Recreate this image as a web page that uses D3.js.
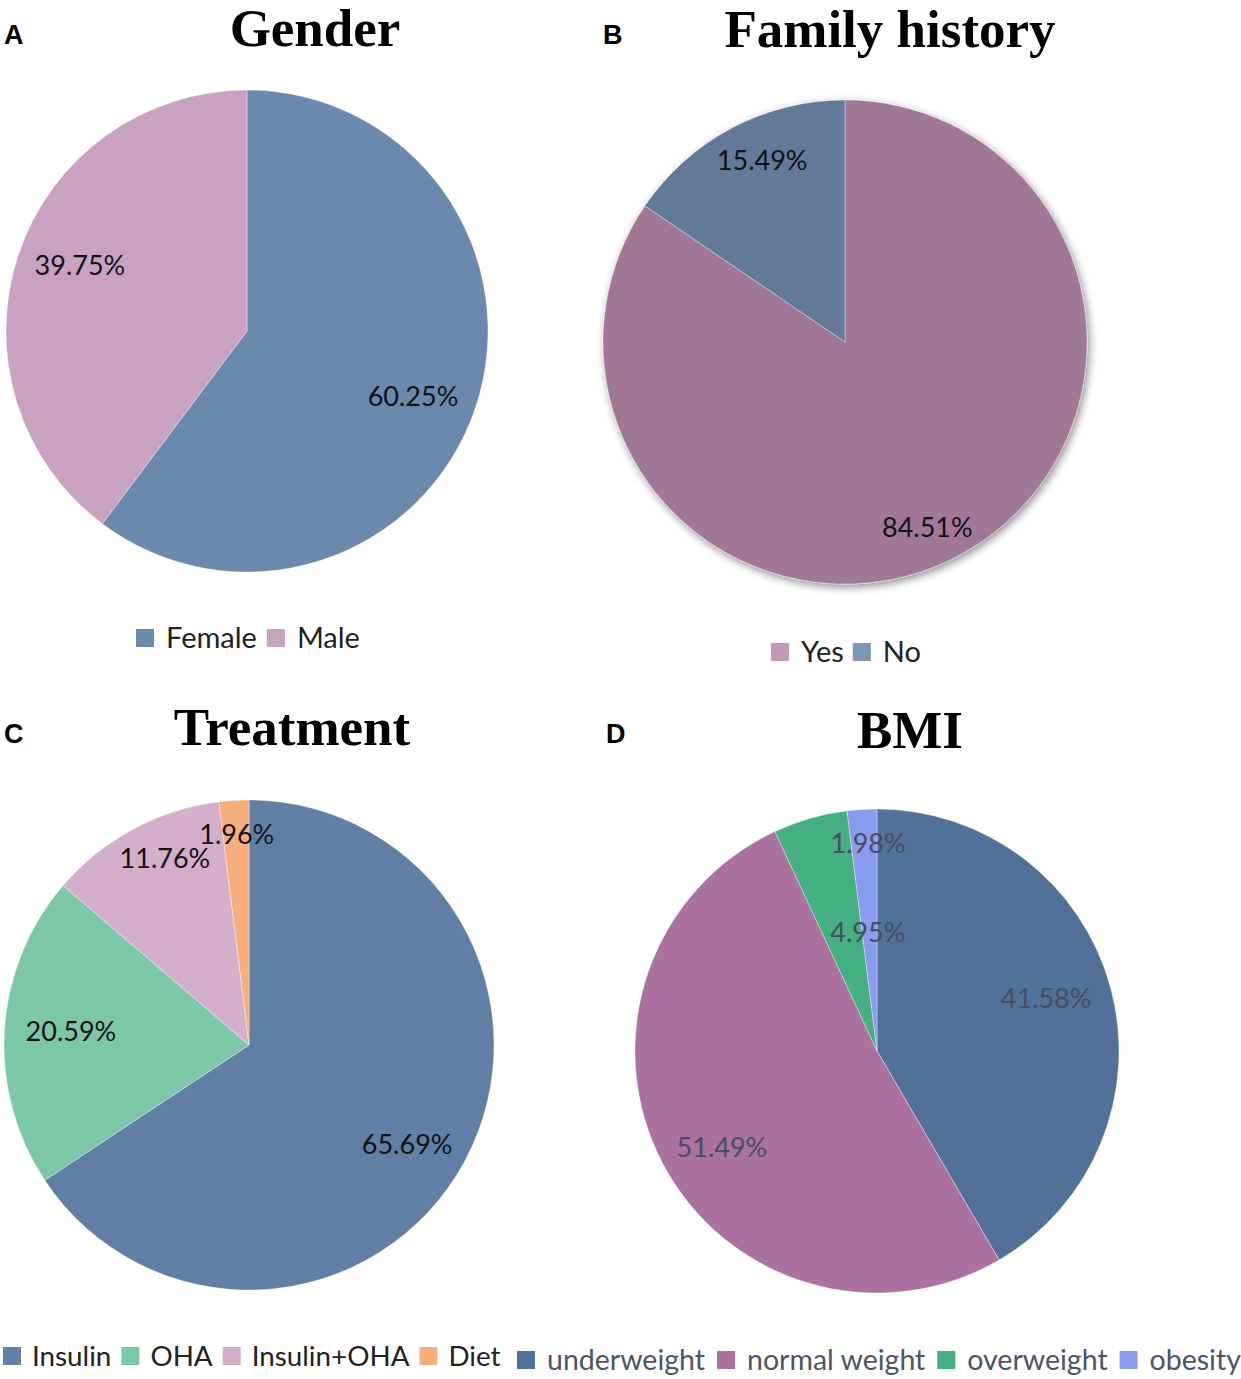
<!DOCTYPE html>
<html>
<head>
<meta charset="utf-8">
<script src="https://cdn.jsdelivr.net/npm/d3@7"></script>
<style>
    body { margin: 0; background: #fff; }
    svg text { font-family: Lato, "Open Sans", sans-serif; }
</style>
</head>
<body>
<div id="chart"></div>
<script>
// values (percent)
const genderLabels = ["Female", "Male"];
const genderValues = [60.25, 39.75];

const familyLabels = ["Yes", "No"];
const familyValues = [84.51, 15.49];

const treatmentLabels = ["Insulin", "OHA", "Insulin+OHA", "Diet"];
const treatmentValues = [65.69, 20.59, 11.76, 1.96];

const bmiLabels = ["underweight", "normal weight", "overweight", "obesity"];
const bmiValues = [41.58, 51.49, 4.95, 1.98];

const W = 1241, H = 1379;

const svg = d3.select("#chart")
    .append("svg")
    .attr("width", W)
    .attr("height", H);

const defs = svg.append("defs");
defs.append("filter")
    .attr("id", "shadow")
    .attr("x", "-10%").attr("y", "-10%")
    .attr("width", "120%").attr("height", "120%")
    .append("feDropShadow")
    .attr("dx", 2).attr("dy", 3)
    .attr("stdDeviation", 4)
    .attr("flood-color", "#000")
    .attr("flood-opacity", 0.45);

// labelR: radius of each % label as share of pie radius
// labelShift: small angle nudge (degrees) the way Excel placed them
const panels = [
    {
        letter: "A", letterX: 4, letterY: 44,
        title: "Gender", titleX: 315, titleY: 46,
        labels: genderLabels, values: genderValues,
        colors: ["#6b89ad", "#c9a2c2"],
        legendColors: ["#6b89ad", "#c9a2c2"],
        cx: 247, cy: 331, r: 241,
        labelR: [0.74, 0.745], labelShift: [3, 3],
        labelColor: "#111",
        legendX: 136, legendY: 648, legendSize: 29, legendPad: 30, legendGap: 10, legendColor: "#222"
    },
    {
        letter: "B", letterX: 603, letterY: 44,
        title: "Family history", titleX: 890, titleY: 47,
        labels: familyLabels, values: familyValues,
        colors: ["#a27899", "#627a97"],
        legendColors: ["#c597bb", "#7f97b5"],
        cx: 845, cy: 342, r: 242,
        labelR: [0.84, 0.826], labelShift: [4, 3.4],
        labelColor: "#111", shadow: true,
        legendX: 771, legendY: 662, legendSize: 29, legendPad: 30, legendGap: 9, legendColor: "#222"
    },
    {
        letter: "C", letterX: 4, letterY: 743,
        title: "Treatment", titleX: 292, titleY: 745,
        labels: treatmentLabels, values: treatmentValues,
        colors: ["#617fa5", "#7dc7a9", "#d3afcc", "#f6ae7c"],
        legendColors: ["#617fa5", "#7dc7a9", "#d3afcc", "#f6ae7c"],
        cx: 249, cy: 1045, r: 245,
        labelR: [0.763, 0.729, 0.833, 0.862], labelShift: [4, 0.7, 3.9, 0.2],
        labelColor: "#111",
        legendX: 3, legendY: 1366, legendSize: 27.8, legendPad: 29, legendGap: 10, legendColor: "#222"
    },
    {
        letter: "D", letterX: 606, letterY: 743,
        title: "BMI", titleX: 910, titleY: 748,
        labels: bmiLabels, values: bmiValues,
        colors: ["#527199", "#ab729f", "#46af84", "#8a9bf0"],
        legendColors: ["#527199", "#ab729f", "#46af84", "#8a9bf0"],
        cx: 877, cy: 1051, r: 242,
        labelR: [0.732, 0.756, 0.489, 0.856], labelShift: [-2.2, -4.4, 11.6, 1.1],
        labelColor: "#474d60",
        legendX: 517, legendY: 1370, legendSize: 28.5, legendPad: 30, legendGap: 12, legendColor: "#4b5468"
    }
];

const fmt = d => d.toFixed(2) + "%";
const rad = Math.PI / 180;

const drawPanel = (p) => {
    const g = svg.append("g");

    g.append("text")
        .attr("x", p.letterX)
        .attr("y", p.letterY)
        .style("font-family", "'Liberation Sans', Arial, sans-serif")
        .style("font-weight", "bold")
        .style("font-size", "27px")
        .text(p.letter);

    g.append("text")
        .attr("x", p.titleX)
        .attr("y", p.titleY)
        .attr("text-anchor", "middle")
        .style("font-family", "'Liberation Serif', 'Times New Roman', serif")
        .style("font-weight", "bold")
        .style("font-size", "53px")
        .text(p.title);

    const data = p.labels.map((name, i) => ({ name, value: p.values[i], i }));

    const pie = d3.pie()
        .sort(null)
        .value(d => d.value);

    const arcs = pie(data);

    const arc = d3.arc()
        .innerRadius(0)
        .outerRadius(p.r);

    const pieG = g.append("g")
        .attr("transform", `translate(${p.cx}, ${p.cy})`);

    const slices = pieG.append("g");
    if (p.shadow) slices.attr("filter", "url(#shadow)");

    slices.selectAll("path")
        .data(arcs)
        .enter()
        .append("path")
        .attr("d", arc)
        .attr("fill", d => p.colors[d.index])
        .attr("stroke", "#fff")
        .attr("stroke-opacity", 0.35)
        .attr("stroke-width", 1);

    pieG.selectAll("text.pct")
        .data(arcs)
        .enter()
        .append("text")
        .attr("class", "pct")
        .attr("transform", d => {
            const k = p.labelR[d.index] * p.r;
            const a = (d.startAngle + d.endAngle) / 2 + p.labelShift[d.index] * rad;
            return `translate(${Math.sin(a) * k}, ${-Math.cos(a) * k})`;
        })
        .attr("text-anchor", "middle")
        .attr("dy", "0.35em")
        .attr("fill", p.labelColor)
        .style("font-size", "27px")
        .text(d => fmt(d.data.value));

    // legend, items laid out one after another
    const legend = g.append("g")
        .attr("transform", `translate(${p.legendX}, ${p.legendY})`);
    let x = 0;
    data.forEach((d, i) => {
        const item = legend.append("g").attr("transform", `translate(${x}, 0)`);
        item.append("rect")
            .attr("x", 0)
            .attr("y", -19)
            .attr("width", 18)
            .attr("height", 18)
            .attr("fill", p.legendColors[i]);
        const t = item.append("text")
            .attr("x", p.legendPad)
            .attr("y", 0)
            .attr("fill", p.legendColor)
            .style("font-size", p.legendSize + "px")
            .text(d.name);
        x += p.legendPad + t.node().getComputedTextLength() + p.legendGap;
    });
};

panels.forEach(drawPanel);
</script>
</body>
</html>
